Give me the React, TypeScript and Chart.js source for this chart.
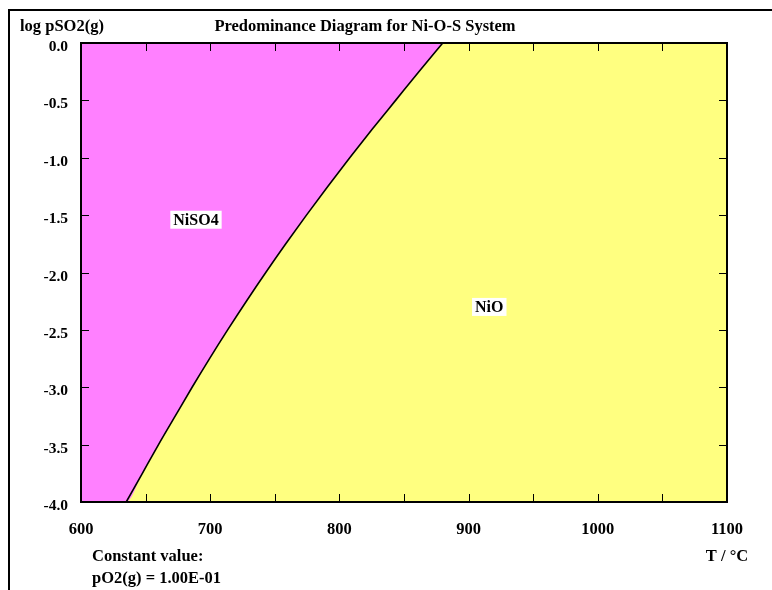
import React, { useEffect, useRef } from "react";
import { Chart, registerables } from "chart.js";

Chart.register(...registerables);

// Phase boundary NiSO4 / NiO : log pSO2 vs T (°C)
const boundaryLogP = [-4.0, -3.75, -3.5, -3.25, -3.0, -2.75, -2.5, -2.25, -2.0, -1.75, -1.5, -1.25, -1.0, -0.75, -0.5, -0.25, 0.0];
const boundaryT = [635, 647.5, 660, 673, 686, 699.5, 713.5, 728, 743, 758.5, 774.5, 791, 808, 825.5, 843.5, 861.5, 880];

const xMin = 600;
const xMax = 1100;
const yMin = -4;
const yMax = 0;
const xLabelStep = 100;
const yLabelStep = 0.5;
const xTickMarks = [600, 650, 700, 750, 800, 850, 900, 950, 1000, 1050, 1100];
const yTickMarks = [0, -0.5, -1, -1.5, -2, -2.5, -3, -3.5, -4];

const regionNames = ["NiSO4", "NiO"];
const regionLabelT = [689, 916];
const regionLabelLogP = [-1.54, -2.3];

const titleText = "Predominance Diagram for Ni-O-S System";
const yAxisTitle = "log pSO2(g)";
const xAxisTitle = "T / °C";
const constantLines = ["Constant value:", "pO2(g) = 1.00E-01"];

const MAGENTA = "#ff80ff";
const YELLOW = "#ffff80";
const FONT = "'Liberation Serif', 'Times New Roman', serif";

export default function App() {
  const ref = useRef<HTMLCanvasElement | null>(null);

  useEffect(() => {
    const canvas = ref.current;
    if (!canvas) return;

    const boundary = boundaryT.map((t, i) => ({ x: t, y: boundaryLogP[i] }));
    const niso4Region = [{ x: xMin, y: yMin }, ...boundary];
    const nioRegion = [
      { x: xMin, y: yMax },
      { x: xMax, y: yMax },
    ];

    const decor = {
      id: "decor",
      afterDatasetsDraw(chart: any) {
        const { ctx, chartArea: a, scales } = chart;
        const xs = scales.x;
        const ys = scales.y;
        ctx.save();
        ctx.strokeStyle = "#000";
        ctx.lineWidth = 1;
        ctx.beginPath();
        xTickMarks.forEach((v) => {
          const px = Math.round(xs.getPixelForValue(v)) + 0.5;
          ctx.moveTo(px, a.bottom);
          ctx.lineTo(px, a.bottom - 8);
          ctx.moveTo(px, a.top);
          ctx.lineTo(px, a.top + 8);
        });
        yTickMarks.forEach((v) => {
          const py = Math.round(ys.getPixelForValue(v)) + 0.5;
          ctx.moveTo(a.left, py);
          ctx.lineTo(a.left + 8, py);
          ctx.moveTo(a.right, py);
          ctx.lineTo(a.right - 8, py);
        });
        ctx.stroke();
        ctx.lineWidth = 2;
        ctx.strokeRect(a.left, a.top, a.right - a.left, a.bottom - a.top);

        ctx.font = `bold 16px ${FONT}`;
        ctx.textAlign = "center";
        ctx.textBaseline = "middle";
        regionNames.forEach((name, i) => {
          const px = xs.getPixelForValue(regionLabelT[i]);
          const py = ys.getPixelForValue(regionLabelLogP[i]);
          const w = ctx.measureText(name).width + 6;
          const h = 18;
          ctx.fillStyle = "#fff";
          ctx.fillRect(px - w / 2, py - h / 2, w, h);
          ctx.fillStyle = "#000";
          ctx.fillText(name, px, py + 1);
        });
        ctx.restore();
      },
      afterDraw(chart: any) {
        const { ctx, width, height, chartArea: a } = chart;
        ctx.save();
        ctx.strokeStyle = "#000";
        ctx.lineWidth = 2;
        ctx.beginPath();
        ctx.moveTo(9, height);
        ctx.lineTo(9, 10);
        ctx.lineTo(width, 10);
        ctx.stroke();

        ctx.fillStyle = "#000";
        ctx.font = `bold 16.5px ${FONT}`;
        ctx.textBaseline = "alphabetic";
        ctx.textAlign = "left";
        ctx.fillText(yAxisTitle, 20, 31);
        ctx.textAlign = "center";
        ctx.fillText(titleText, 365, 31);
        ctx.fillText(xAxisTitle, a.right, 561);
        ctx.textAlign = "left";
        ctx.fillText(constantLines[0], 92, 561);
        ctx.fillText(constantLines[1], 92, 583);
        ctx.restore();
      },
    };

    const chart = new Chart(canvas, {
      type: "scatter",
      data: {
        datasets: [
          {
            label: "boundary",
            data: boundary,
            showLine: true,
            borderColor: "#000",
            borderWidth: 1.6,
            pointRadius: 0,
            fill: false,
            cubicInterpolationMode: "monotone",
          },
          {
            label: "NiSO4",
            data: niso4Region,
            showLine: true,
            borderWidth: 0,
            borderColor: "rgba(0,0,0,0)",
            backgroundColor: MAGENTA,
            pointRadius: 0,
            fill: "end",
            cubicInterpolationMode: "monotone",
          },
          {
            label: "NiO",
            data: nioRegion,
            showLine: true,
            borderWidth: 0,
            borderColor: "rgba(0,0,0,0)",
            backgroundColor: YELLOW,
            pointRadius: 0,
            fill: "start",
          },
        ],
      },
      options: {
        animation: false,
        responsive: false,
        events: [],
        layout: { padding: { top: 43, right: 45, left: 0, bottom: 0 } },
        plugins: {
          legend: { display: false },
          tooltip: { enabled: false },
          title: { display: false },
        },
        scales: {
          x: {
            type: "linear",
            position: "bottom",
            min: xMin,
            max: xMax,
            grid: { display: false, drawTicks: false },
            border: { display: false },
            ticks: {
              stepSize: xLabelStep,
              color: "#000",
              padding: 18,
              font: { family: FONT, weight: "bold", size: 16.5 },
              maxRotation: 0,
              callback: (v: any) => String(v),
            },
            afterFit: (s: any) => {
              s.height = 88;
            },
          },
          y: {
            type: "linear",
            position: "left",
            min: yMin,
            max: yMax,
            grid: { display: false, drawTicks: false },
            border: { display: false },
            ticks: {
              stepSize: yLabelStep,
              color: "#000",
              padding: 13,
              labelOffset: 4,
              font: { family: FONT, weight: "bold", size: 15.5 },
              callback: (v: any) => Number(v).toFixed(1),
            },
            afterFit: (s: any) => {
              s.width = 81;
            },
          },
        },
      },
      plugins: [decor],
    });

    return () => chart.destroy();
  }, []);

  return (
    <div style={{ position: "absolute", left: 0, top: 0, width: 772, height: 590, background: "#fff" }}>
      <canvas ref={ref} width={772} height={590} style={{ display: "block" }} />
    </div>
  );
}
